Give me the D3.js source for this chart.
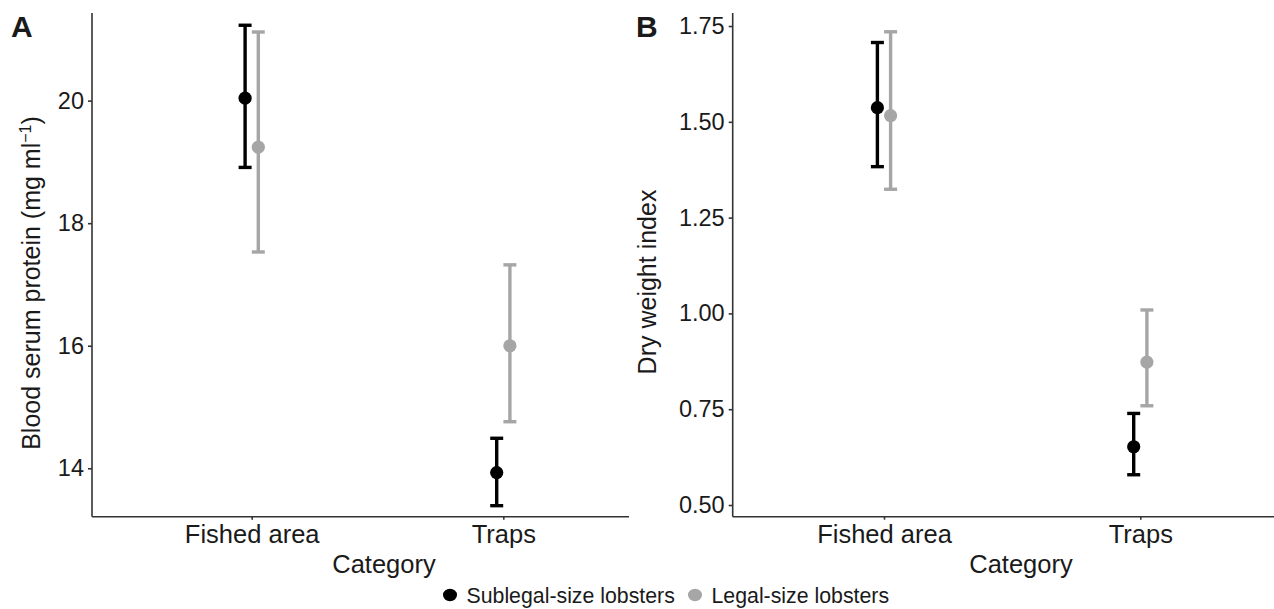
<!DOCTYPE html>
<html>
<head>
<meta charset="utf-8">
<script src="https://cdn.jsdelivr.net/npm/d3@7"></script>
<style>
  body { margin: 0; background: #fff; }
  svg text { font-family: "Liberation Sans", Arial, Helvetica, sans-serif; fill: #1a1a1a; }
</style>
</head>
<body>
<svg id="chart"></svg>
<script>
// categories and groups
const categories = ["Fished area", "Traps"];
const groups = ["Sublegal-size lobsters", "Legal-size lobsters"];

// panel A - blood serum protein (mg/ml), mean and error bar ends
const proteinSubMean = [20.04, 13.93];
const proteinSubLow = [18.91, 13.39];
const proteinSubHigh = [21.23, 14.49];
const proteinLegalMean = [19.24, 16.00];
const proteinLegalLow = [17.53, 14.76];
const proteinLegalHigh = [21.12, 17.32];
const proteinTicks = [14, 16, 18, 20];

// panel B - dry weight index
const dryweightSubMean = [1.537, 0.652];
const dryweightSubLow = [1.383, 0.579];
const dryweightSubHigh = [1.707, 0.739];
const dryweightLegalMean = [1.516, 0.873];
const dryweightLegalLow = [1.324, 0.759];
const dryweightLegalHigh = [1.735, 1.009];
const dryweightTicks = [0.50, 0.75, 1.00, 1.25, 1.50, 1.75];

const colors = ["#000000", "#a6a6a6"];

let width = 1274, height = 609;

let svg = d3.select("#chart")
    .attr("width", width)
    .attr("height", height);

// build rows for one panel from the arrays
function makeRows(sub, legal) {
    let rows = [];
    categories.forEach(function(c, i) {
        rows.push({cat: c, group: 0, mean: sub[0][i], lo: sub[1][i], hi: sub[2][i]});
        rows.push({cat: c, group: 1, mean: legal[0][i], lo: legal[1][i], hi: legal[2][i]});
    });
    return rows;
}

function drawPanel(p) {
    let g = svg.append("g");

    let x = d3.scalePoint()
        .domain(categories)
        .range([p.cat0, p.cat1]);
    let y = d3.scaleLinear()
        .domain(p.domain)
        .range([p.bottom, p.top]);

    let dodge = 6.6;
    let xpos = function(d) { return x(d.cat) + (d.group === 0 ? -dodge : dodge); };

    // y axis
    let ya = g.append("g")
        .attr("transform", "translate(" + p.left + ",0)")
        .call(d3.axisLeft(y).tickValues(p.ticks).tickFormat(p.fmt).tickSize(4).tickSizeOuter(0).tickPadding(4));
    ya.select(".domain").attr("d", "M0," + p.top + "V" + p.bottom);
    ya.selectAll("line, path").attr("stroke", "#333").attr("stroke-width", 1.6);
    ya.selectAll("text").attr("font-size", "23.5px").attr("fill", "#1a1a1a");

    // x axis
    let xa = g.append("g")
        .attr("transform", "translate(0," + p.bottom + ")")
        .call(d3.axisBottom(x).tickSize(3).tickSizeOuter(0).tickPadding(5));
    xa.select(".domain").attr("d", "M" + p.left + ",0H" + p.right);
    xa.selectAll("line, path").attr("stroke", "#333").attr("stroke-width", 1.6);
    xa.selectAll("text").attr("font-size", "25.5px").attr("fill", "#1a1a1a");

    let rows = makeRows(p.sub, p.legal);

    // draw grey group first so black sits on top
    let bars = g.selectAll(".err")
        .data(rows.slice().sort(function(a, b) { return b.group - a.group; }))
        .enter()
        .append("g")
        .attr("class", "err");

    bars.append("line")
        .attr("x1", xpos).attr("x2", xpos)
        .attr("y1", function(d) { return y(d.lo); })
        .attr("y2", function(d) { return y(d.hi); })
        .attr("stroke", function(d) { return colors[d.group]; })
        .attr("stroke-width", 3.4);

    ["lo", "hi"].forEach(function(k) {
        bars.append("line")
            .attr("x1", function(d) { return xpos(d) - 6.5; })
            .attr("x2", function(d) { return xpos(d) + 6.5; })
            .attr("y1", function(d) { return y(d[k]); })
            .attr("y2", function(d) { return y(d[k]); })
            .attr("stroke", function(d) { return colors[d.group]; })
            .attr("stroke-width", 3.4);
    });

    bars.append("circle")
        .attr("cx", xpos)
        .attr("cy", function(d) { return y(d.mean); })
        .attr("r", 6.6)
        .attr("fill", function(d) { return colors[d.group]; });

    // axis titles
    g.append("text")
        .attr("x", p.catTitleX)
        .attr("y", 573)
        .attr("text-anchor", "middle")
        .attr("font-size", "25.5px")
        .text("Category");

    let yt = g.append("text")
        .attr("transform", "translate(" + p.titleX + "," + p.titleY + ")rotate(-90)")
        .attr("text-anchor", "middle")
        .attr("font-size", "25px");
    yt.append("tspan").text(p.title);
    if (p.sup) {
        yt.append("tspan").attr("font-size", "16px").attr("dy", -9).text(p.sup);
        yt.append("tspan").attr("dy", 9).text(")");
    }

    // panel letter
    g.append("text")
        .attr("x", p.letterX)
        .attr("y", 37)
        .attr("font-size", "30px")
        .attr("font-weight", "bold")
        .attr("fill", "#000")
        .text(p.letter);
}

drawPanel({
    letter: "A", letterX: 11,
    left: 92, right: 629, top: 13, bottom: 516.7,
    cat0: 251.7, cat1: 503.3,
    domain: [13.21, 21.43],
    ticks: proteinTicks, fmt: d3.format("d"),
    sub: [proteinSubMean, proteinSubLow, proteinSubHigh],
    legal: [proteinLegalMean, proteinLegalLow, proteinLegalHigh],
    title: "Blood serum protein (mg ml", sup: "\u22121",
    titleX: 40, titleY: 283,
    catTitleX: 384
});

drawPanel({
    letter: "B", letterX: 636,
    left: 732.7, right: 1274, top: 13, bottom: 516.7,
    cat0: 884, cat1: 1140.3,
    domain: [0.4695, 1.784],
    ticks: dryweightTicks, fmt: d3.format(".2f"),
    sub: [dryweightSubMean, dryweightSubLow, dryweightSubHigh],
    legal: [dryweightLegalMean, dryweightLegalLow, dryweightLegalHigh],
    title: "Dry weight index", sup: null,
    titleX: 656, titleY: 282,
    catTitleX: 1021
});

// legend
let legendX = [450, 695];
let legend = svg.append("g");
groups.forEach(function(name, i) {
    legend.append("ellipse")
        .attr("cx", legendX[i])
        .attr("cy", 595)
        .attr("rx", 7)
        .attr("ry", 6.2)
        .attr("fill", colors[i]);
    legend.append("text")
        .attr("x", legendX[i] + 16.5)
        .attr("y", 603)
        .attr("font-size", "21.3px")
        .text(name);
});
</script>
</body>
</html>
